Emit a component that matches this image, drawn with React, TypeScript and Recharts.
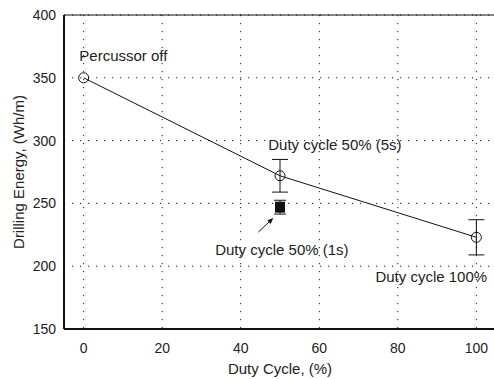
import React from "react"
import {
  ComposedChart,
  Scatter,
  XAxis,
  YAxis,
  CartesianGrid,
  ErrorBar,
  ReferenceLine,
  ReferenceDot,
} from "recharts"

// Duty cycle series (open circles joined by a line)
const dutyCycle = [0, 50, 100]
const energy = [350, 272, 223]
const energyErr = [undefined, 13, 14]

// Short cycle point (filled square)
const shortCycle = [50]
const shortEnergy = [247]
const shortErr = [5.5]

const xTicks = [0, 20, 40, 60, 80, 100]
const yTicks = [150, 200, 250, 300, 350, 400]

// Text annotations, anchored in data coordinates (left edge, baseline)
const notes = [
  { text: "Percussor off", x: -1.1, y: 363.4 },
  { text: "Duty cycle 50% (5s)", x: 47, y: 292.5 },
  { text: "Duty cycle 50% (1s)", x: 33.5, y: 208.9 },
  { text: "Duty cycle 100%", x: 74.3, y: 187.4 },
]

const arrowFrom = { x: 44.5, y: 227.2 }
const arrowTo = { x: 48.3, y: 238.4 }

const font = "'Liberation Sans', Arial, Helvetica, sans-serif"

const mainData = dutyCycle.map((x, i) => ({ x, y: energy[i], err: energyErr[i] }))
const shortData = shortCycle.map((x, i) => ({ x, y: shortEnergy[i], err: shortErr[i] }))

const OpenCircle = (p: any) => (
  <circle cx={p.cx} cy={p.cy} r={5} fill="none" stroke="#111" strokeWidth={1} />
)

const FilledSquare = (p: any) => (
  <rect x={p.cx - 5} y={p.cy - 5.5} width={10} height={11} fill="#111" />
)

const Arrow = (p: any) => {
  const { x1, y1, x2, y2 } = p
  const a = Math.atan2(y2 - y1, x2 - x1)
  const len = 6
  const w = 2.5
  const bx = x2 - len * Math.cos(a)
  const by = y2 - len * Math.sin(a)
  const px = -Math.sin(a) * w
  const py = Math.cos(a) * w
  return (
    <g>
      <line x1={x1} y1={y1} x2={bx} y2={by} stroke="#111" strokeWidth={1} />
      <polygon points={`${x2},${y2} ${bx + px},${by + py} ${bx - px},${by - py}`} fill="#111" />
    </g>
  )
}

export default function App() {
  return (
    <div style={{ position: "absolute", left: 0, top: 0, width: 494, height: 379, overflow: "hidden", background: "#fff" }}>
      <ComposedChart width={496} height={379} margin={{ top: 15, right: 0, bottom: 0, left: 0 }}>
        <CartesianGrid stroke="#111" strokeDasharray="1.2 6.8" />
        <XAxis
          type="number"
          dataKey="x"
          domain={[-5, 105]}
          ticks={xTicks}
          height={50}
          axisLine={{ stroke: "#111", strokeWidth: 2 }}
          tickLine={false}
          tickMargin={8}
          tick={{ fill: "#222", fontSize: 14, fontFamily: font }}
          label={{ value: "Duty Cycle, (%)", position: "insideBottom", offset: 5, fill: "#222", fontSize: 15, fontFamily: font }}
        />
        <YAxis
          type="number"
          dataKey="y"
          domain={[150, 400]}
          ticks={yTicks}
          width={64}
          axisLine={{ stroke: "#111", strokeWidth: 2 }}
          tickLine={false}
          tick={{ fill: "#222", fontSize: 14, fontFamily: font }}
          label={{
            value: "Drilling Energy, (Wh/m)",
            angle: -90,
            position: "insideLeft",
            offset: 19,
            fill: "#222",
            fontSize: 15,
            fontFamily: font,
            style: { textAnchor: "middle" },
          }}
        />
        <ReferenceLine y={400} stroke="#111" strokeWidth={1} />
        <Scatter
          data={mainData}
          line={{ stroke: "#111", strokeWidth: 1 }}
          shape={OpenCircle}
          isAnimationActive={false}
        >
          <ErrorBar dataKey="err" direction="y" width={8} stroke="#111" strokeWidth={1} />
        </Scatter>
        <Scatter data={shortData} shape={FilledSquare} isAnimationActive={false}>
          <ErrorBar dataKey="err" direction="y" width={6} stroke="#111" strokeWidth={1} />
        </Scatter>
        <ReferenceLine segment={[arrowFrom, arrowTo]} shape={Arrow} ifOverflow="visible" />
        {notes.map((n) => (
          <ReferenceDot
            key={n.text}
            x={n.x}
            y={n.y}
            r={0}
            ifOverflow="visible"
            shape={(p: any) => (
              <text x={p.cx} y={p.cy} fill="#222" fontSize={15} fontFamily={font}>
                {n.text}
              </text>
            )}
          />
        ))}
      </ComposedChart>
    </div>
  )
}
